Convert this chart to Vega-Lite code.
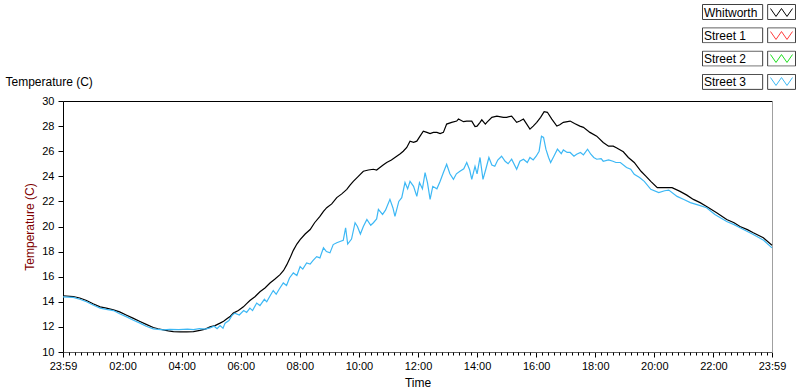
{
"$schema": "https://vega.github.io/schema/vega-lite/v6.json",
"width": 709, "height": 251,
"autosize": {"type": "none"},
"padding": {"left": 63, "top": 101, "right": 28, "bottom": 40},
"background": "white",
"config": {
  "view": {"stroke": null},
  "font": "Liberation Sans",
  "axis": {"labelFont": "Liberation Sans", "titleFont": "Liberation Sans", "labelColor": "#000", "titleColor": "#000", "grid": false, "tickColor": "#000", "domainColor": "#000", "labelFontSize": 11, "titleFontSize": 12, "titleFontWeight": "normal", "labelFlush": false, "labelOverlap": false},
  "legend": {"padding": 0, "labelFont": "Liberation Sans", "labelFontSize": 12, "labelColor": "#000"}
},
"data": {"values": [
{"series":"Whitworth","t":-0.017,"temp":14.48},{"series":"Whitworth","t":0.33,"temp":14.42},{"series":"Whitworth","t":0.55,"temp":14.3},{"series":"Whitworth","t":0.78,"temp":14.1},{"series":"Whitworth","t":1.0,"temp":13.85},{"series":"Whitworth","t":1.24,"temp":13.6},{"series":"Whitworth","t":1.45,"temp":13.5},{"series":"Whitworth","t":1.69,"temp":13.36},{"series":"Whitworth","t":1.9,"temp":13.2},{"series":"Whitworth","t":2.14,"temp":12.93},{"series":"Whitworth","t":2.35,"temp":12.7},{"series":"Whitworth","t":2.59,"temp":12.43},{"series":"Whitworth","t":2.8,"temp":12.2},{"series":"Whitworth","t":3.04,"temp":11.95},{"series":"Whitworth","t":3.2,"temp":11.85},{"series":"Whitworth","t":3.38,"temp":11.76},{"series":"Whitworth","t":3.55,"temp":11.68},{"series":"Whitworth","t":3.72,"temp":11.63},{"series":"Whitworth","t":3.95,"temp":11.6},{"series":"Whitworth","t":4.17,"temp":11.6},{"series":"Whitworth","t":4.4,"temp":11.62},{"series":"Whitworth","t":4.62,"temp":11.72},{"series":"Whitworth","t":4.8,"temp":11.82},{"series":"Whitworth","t":4.96,"temp":12.0},{"series":"Whitworth","t":5.13,"temp":12.1},{"series":"Whitworth","t":5.3,"temp":12.3},{"series":"Whitworth","t":5.42,"temp":12.45},{"series":"Whitworth","t":5.53,"temp":12.65},{"series":"Whitworth","t":5.65,"temp":12.85},{"series":"Whitworth","t":5.75,"temp":13.1},{"series":"Whitworth","t":5.92,"temp":13.3},{"series":"Whitworth","t":6.09,"temp":13.6},{"series":"Whitworth","t":6.2,"temp":13.85},{"series":"Whitworth","t":6.31,"temp":14.1},{"series":"Whitworth","t":6.48,"temp":14.4},{"series":"Whitworth","t":6.65,"temp":14.8},{"series":"Whitworth","t":6.82,"temp":15.1},{"series":"Whitworth","t":6.99,"temp":15.5},{"series":"Whitworth","t":7.15,"temp":15.8},{"series":"Whitworth","t":7.33,"temp":16.16},{"series":"Whitworth","t":7.45,"temp":16.5},{"series":"Whitworth","t":7.56,"temp":16.96},{"series":"Whitworth","t":7.67,"temp":17.5},{"series":"Whitworth","t":7.78,"temp":18.1},{"series":"Whitworth","t":7.9,"temp":18.6},{"series":"Whitworth","t":8.01,"temp":18.96},{"series":"Whitworth","t":8.18,"temp":19.4},{"series":"Whitworth","t":8.35,"temp":19.76},{"series":"Whitworth","t":8.5,"temp":20.3},{"series":"Whitworth","t":8.68,"temp":20.8},{"series":"Whitworth","t":8.8,"temp":21.2},{"series":"Whitworth","t":8.91,"temp":21.5},{"series":"Whitworth","t":9.08,"temp":21.8},{"series":"Whitworth","t":9.25,"temp":22.3},{"series":"Whitworth","t":9.42,"temp":22.6},{"series":"Whitworth","t":9.59,"temp":22.96},{"series":"Whitworth","t":9.7,"temp":23.3},{"series":"Whitworth","t":9.81,"temp":23.6},{"series":"Whitworth","t":9.98,"temp":24.0},{"series":"Whitworth","t":10.15,"temp":24.4},{"series":"Whitworth","t":10.32,"temp":24.5},{"series":"Whitworth","t":10.49,"temp":24.56},{"series":"Whitworth","t":10.6,"temp":24.5},{"series":"Whitworth","t":10.71,"temp":24.7},{"series":"Whitworth","t":10.82,"temp":24.9},{"series":"Whitworth","t":10.94,"temp":25.1},{"series":"Whitworth","t":11.1,"temp":25.3},{"series":"Whitworth","t":11.28,"temp":25.6},{"series":"Whitworth","t":11.4,"temp":25.8},{"series":"Whitworth","t":11.5,"temp":26.0},{"series":"Whitworth","t":11.62,"temp":26.3},{"series":"Whitworth","t":11.73,"temp":26.8},{"series":"Whitworth","t":11.85,"temp":26.7},{"series":"Whitworth","t":11.96,"temp":26.8},{"series":"Whitworth","t":12.07,"temp":27.2},{"series":"Whitworth","t":12.18,"temp":27.6},{"series":"Whitworth","t":12.3,"temp":27.5},{"series":"Whitworth","t":12.41,"temp":27.4},{"series":"Whitworth","t":12.52,"temp":27.5},{"series":"Whitworth","t":12.64,"temp":27.5},{"series":"Whitworth","t":12.75,"temp":27.4},{"series":"Whitworth","t":12.86,"temp":27.5},{"series":"Whitworth","t":12.97,"temp":28.16},{"series":"Whitworth","t":13.14,"temp":28.3},{"series":"Whitworth","t":13.31,"temp":28.4},{"series":"Whitworth","t":13.37,"temp":28.56},{"series":"Whitworth","t":13.54,"temp":28.35},{"series":"Whitworth","t":13.65,"temp":28.4},{"series":"Whitworth","t":13.82,"temp":28.4},{"series":"Whitworth","t":13.93,"temp":27.96},{"series":"Whitworth","t":14.0,"temp":28.0},{"series":"Whitworth","t":14.1,"temp":28.3},{"series":"Whitworth","t":14.16,"temp":28.5},{"series":"Whitworth","t":14.28,"temp":28.16},{"series":"Whitworth","t":14.33,"temp":28.3},{"series":"Whitworth","t":14.5,"temp":28.7},{"series":"Whitworth","t":14.67,"temp":28.8},{"series":"Whitworth","t":14.89,"temp":28.7},{"series":"Whitworth","t":15.0,"temp":28.7},{"series":"Whitworth","t":15.17,"temp":28.8},{"series":"Whitworth","t":15.34,"temp":28.3},{"series":"Whitworth","t":15.45,"temp":28.4},{"series":"Whitworth","t":15.57,"temp":28.56},{"series":"Whitworth","t":15.79,"temp":27.76},{"series":"Whitworth","t":15.9,"temp":28.0},{"series":"Whitworth","t":16.02,"temp":28.3},{"series":"Whitworth","t":16.15,"temp":28.7},{"series":"Whitworth","t":16.27,"temp":29.15},{"series":"Whitworth","t":16.38,"temp":29.1},{"series":"Whitworth","t":16.53,"temp":28.56},{"series":"Whitworth","t":16.7,"temp":28.0},{"series":"Whitworth","t":16.8,"temp":28.1},{"series":"Whitworth","t":16.92,"temp":28.3},{"series":"Whitworth","t":17.15,"temp":28.4},{"series":"Whitworth","t":17.3,"temp":28.2},{"series":"Whitworth","t":17.48,"temp":28.0},{"series":"Whitworth","t":17.6,"temp":27.9},{"series":"Whitworth","t":17.82,"temp":27.5},{"series":"Whitworth","t":18.05,"temp":27.2},{"series":"Whitworth","t":18.27,"temp":26.7},{"series":"Whitworth","t":18.45,"temp":26.4},{"series":"Whitworth","t":18.61,"temp":26.4},{"series":"Whitworth","t":18.73,"temp":26.25},{"series":"Whitworth","t":18.95,"temp":25.95},{"series":"Whitworth","t":19.12,"temp":25.5},{"series":"Whitworth","t":19.32,"temp":25.1},{"series":"Whitworth","t":19.55,"temp":24.4},{"series":"Whitworth","t":19.72,"temp":24.0},{"series":"Whitworth","t":19.88,"temp":23.6},{"series":"Whitworth","t":20.1,"temp":23.1},{"series":"Whitworth","t":20.35,"temp":23.1},{"series":"Whitworth","t":20.6,"temp":23.1},{"series":"Whitworth","t":20.87,"temp":22.8},{"series":"Whitworth","t":21.1,"temp":22.5},{"series":"Whitworth","t":21.32,"temp":22.16},{"series":"Whitworth","t":21.55,"temp":21.9},{"series":"Whitworth","t":21.77,"temp":21.6},{"series":"Whitworth","t":22.11,"temp":21.1},{"series":"Whitworth","t":22.45,"temp":20.56},{"series":"Whitworth","t":22.7,"temp":20.3},{"series":"Whitworth","t":22.9,"temp":20.0},{"series":"Whitworth","t":23.15,"temp":19.75},{"series":"Whitworth","t":23.35,"temp":19.5},{"series":"Whitworth","t":23.69,"temp":19.1},{"series":"Whitworth","t":23.983,"temp":18.5},
{"series":"Street 3","t":-0.017,"temp":14.4},{"series":"Street 3","t":0.33,"temp":14.35},{"series":"Street 3","t":0.55,"temp":14.2},{"series":"Street 3","t":0.78,"temp":14.0},{"series":"Street 3","t":1.0,"temp":13.75},{"series":"Street 3","t":1.24,"temp":13.5},{"series":"Street 3","t":1.45,"temp":13.4},{"series":"Street 3","t":1.69,"temp":13.3},{"series":"Street 3","t":1.9,"temp":13.05},{"series":"Street 3","t":2.14,"temp":12.8},{"series":"Street 3","t":2.35,"temp":12.55},{"series":"Street 3","t":2.59,"temp":12.3},{"series":"Street 3","t":2.8,"temp":12.05},{"series":"Street 3","t":3.04,"temp":11.84},{"series":"Street 3","t":3.2,"temp":11.8},{"series":"Street 3","t":3.38,"temp":11.76},{"series":"Street 3","t":3.6,"temp":11.8},{"series":"Street 3","t":3.9,"temp":11.78},{"series":"Street 3","t":4.2,"temp":11.82},{"series":"Street 3","t":4.4,"temp":11.78},{"series":"Street 3","t":4.6,"temp":11.86},{"series":"Street 3","t":4.8,"temp":11.82},{"series":"Street 3","t":4.96,"temp":11.92},{"series":"Street 3","t":5.1,"temp":12.05},{"series":"Street 3","t":5.2,"temp":11.85},{"series":"Street 3","t":5.3,"temp":12.1},{"series":"Street 3","t":5.4,"temp":11.9},{"series":"Street 3","t":5.47,"temp":12.3},{"series":"Street 3","t":5.6,"temp":12.5},{"series":"Street 3","t":5.7,"temp":12.9},{"series":"Street 3","t":5.8,"temp":13.1},{"series":"Street 3","t":5.95,"temp":12.95},{"series":"Street 3","t":6.1,"temp":13.3},{"series":"Street 3","t":6.2,"temp":13.15},{"series":"Street 3","t":6.31,"temp":13.5},{"series":"Street 3","t":6.4,"temp":13.3},{"series":"Street 3","t":6.54,"temp":13.9},{"series":"Street 3","t":6.65,"temp":13.7},{"series":"Street 3","t":6.8,"temp":14.2},{"series":"Street 3","t":6.88,"temp":14.0},{"series":"Street 3","t":7.0,"temp":14.5},{"series":"Street 3","t":7.1,"temp":14.9},{"series":"Street 3","t":7.2,"temp":14.6},{"series":"Street 3","t":7.3,"temp":15.0},{"series":"Street 3","t":7.44,"temp":15.5},{"series":"Street 3","t":7.55,"temp":15.3},{"series":"Street 3","t":7.65,"temp":15.9},{"series":"Street 3","t":7.78,"temp":16.3},{"series":"Street 3","t":7.9,"temp":16.1},{"series":"Street 3","t":8.01,"temp":16.8},{"series":"Street 3","t":8.1,"temp":16.6},{"series":"Street 3","t":8.23,"temp":17.1},{"series":"Street 3","t":8.35,"temp":17.0},{"series":"Street 3","t":8.45,"temp":17.3},{"series":"Street 3","t":8.57,"temp":17.6},{"series":"Street 3","t":8.68,"temp":17.5},{"series":"Street 3","t":8.8,"temp":18.3},{"series":"Street 3","t":8.9,"temp":18.0},{"series":"Street 3","t":9.02,"temp":17.9},{"series":"Street 3","t":9.13,"temp":18.56},{"series":"Street 3","t":9.25,"temp":18.7},{"series":"Street 3","t":9.36,"temp":18.8},{"series":"Street 3","t":9.47,"temp":18.9},{"series":"Street 3","t":9.55,"temp":19.9},{"series":"Street 3","t":9.62,"temp":18.6},{"series":"Street 3","t":9.75,"temp":19.0},{"series":"Street 3","t":9.87,"temp":20.3},{"series":"Street 3","t":9.95,"temp":20.0},{"series":"Street 3","t":10.05,"temp":19.4},{"series":"Street 3","t":10.15,"temp":20.0},{"series":"Street 3","t":10.27,"temp":20.56},{"series":"Street 3","t":10.4,"temp":20.1},{"series":"Street 3","t":10.49,"temp":20.3},{"series":"Street 3","t":10.6,"temp":20.6},{"series":"Street 3","t":10.66,"temp":21.36},{"series":"Street 3","t":10.8,"temp":20.96},{"series":"Street 3","t":10.9,"temp":21.3},{"series":"Street 3","t":11.05,"temp":22.16},{"series":"Street 3","t":11.15,"temp":21.5},{"series":"Street 3","t":11.22,"temp":20.8},{"series":"Street 3","t":11.35,"temp":22.0},{"series":"Street 3","t":11.45,"temp":22.3},{"series":"Street 3","t":11.56,"temp":23.5},{"series":"Street 3","t":11.65,"temp":23.0},{"series":"Street 3","t":11.73,"temp":23.6},{"series":"Street 3","t":11.85,"temp":23.2},{"series":"Street 3","t":11.96,"temp":22.4},{"series":"Street 3","t":12.05,"temp":23.5},{"series":"Street 3","t":12.15,"temp":23.0},{"series":"Street 3","t":12.24,"temp":24.3},{"series":"Street 3","t":12.32,"temp":23.5},{"series":"Street 3","t":12.41,"temp":22.16},{"series":"Street 3","t":12.5,"temp":23.2},{"series":"Street 3","t":12.64,"temp":23.0},{"series":"Street 3","t":12.75,"temp":23.6},{"series":"Street 3","t":12.86,"temp":24.3},{"series":"Street 3","t":12.97,"temp":24.96},{"series":"Street 3","t":13.08,"temp":24.2},{"series":"Street 3","t":13.2,"temp":23.76},{"series":"Street 3","t":13.3,"temp":24.2},{"series":"Street 3","t":13.42,"temp":24.4},{"series":"Street 3","t":13.55,"temp":24.6},{"series":"Street 3","t":13.65,"temp":25.1},{"series":"Street 3","t":13.75,"temp":24.5},{"series":"Street 3","t":13.82,"temp":23.76},{"series":"Street 3","t":13.93,"temp":24.8},{"series":"Street 3","t":14.0,"temp":24.2},{"series":"Street 3","t":14.1,"temp":25.5},{"series":"Street 3","t":14.2,"temp":23.76},{"series":"Street 3","t":14.3,"temp":24.6},{"series":"Street 3","t":14.4,"temp":25.5},{"series":"Street 3","t":14.5,"temp":24.9},{"series":"Street 3","t":14.6,"temp":24.8},{"series":"Street 3","t":14.7,"temp":25.3},{"series":"Street 3","t":14.83,"temp":25.6},{"series":"Street 3","t":14.95,"temp":25.2},{"series":"Street 3","t":15.05,"temp":25.0},{"series":"Street 3","t":15.17,"temp":25.36},{"series":"Street 3","t":15.34,"temp":24.56},{"series":"Street 3","t":15.45,"temp":25.2},{"series":"Street 3","t":15.57,"temp":25.36},{"series":"Street 3","t":15.7,"temp":25.1},{"series":"Street 3","t":15.79,"temp":25.5},{"series":"Street 3","t":15.9,"temp":25.3},{"series":"Street 3","t":16.0,"temp":25.6},{"series":"Street 3","t":16.1,"temp":26.0},{"series":"Street 3","t":16.18,"temp":27.2},{"series":"Street 3","t":16.25,"temp":27.1},{"series":"Street 3","t":16.33,"temp":26.16},{"series":"Street 3","t":16.42,"temp":25.5},{"series":"Street 3","t":16.49,"temp":25.1},{"series":"Street 3","t":16.6,"temp":25.6},{"series":"Street 3","t":16.72,"temp":26.16},{"series":"Street 3","t":16.85,"temp":25.8},{"series":"Street 3","t":16.92,"temp":26.1},{"series":"Street 3","t":17.05,"temp":25.9},{"series":"Street 3","t":17.15,"temp":25.9},{"series":"Street 3","t":17.28,"temp":25.6},{"series":"Street 3","t":17.37,"temp":25.76},{"series":"Street 3","t":17.5,"temp":25.9},{"series":"Street 3","t":17.6,"temp":25.7},{"series":"Street 3","t":17.74,"temp":26.16},{"series":"Street 3","t":17.85,"temp":25.76},{"series":"Street 3","t":17.95,"temp":25.5},{"series":"Street 3","t":18.05,"temp":25.36},{"series":"Street 3","t":18.2,"temp":25.4},{"series":"Street 3","t":18.27,"temp":25.2},{"series":"Street 3","t":18.45,"temp":25.3},{"series":"Street 3","t":18.6,"temp":25.2},{"series":"Street 3","t":18.7,"temp":25.1},{"series":"Street 3","t":18.85,"temp":25.1},{"series":"Street 3","t":19.06,"temp":24.7},{"series":"Street 3","t":19.2,"temp":24.56},{"series":"Street 3","t":19.32,"temp":24.16},{"series":"Street 3","t":19.5,"temp":23.9},{"series":"Street 3","t":19.66,"temp":23.6},{"series":"Street 3","t":19.88,"temp":22.96},{"series":"Street 3","t":20.15,"temp":22.7},{"series":"Street 3","t":20.35,"temp":22.85},{"series":"Street 3","t":20.49,"temp":22.9},{"series":"Street 3","t":20.77,"temp":22.4},{"series":"Street 3","t":21.0,"temp":22.15},{"series":"Street 3","t":21.22,"temp":21.9},{"series":"Street 3","t":21.5,"temp":21.7},{"series":"Street 3","t":21.77,"temp":21.5},{"series":"Street 3","t":22.05,"temp":20.96},{"series":"Street 3","t":22.45,"temp":20.4},{"series":"Street 3","t":22.7,"temp":20.15},{"series":"Street 3","t":22.9,"temp":19.9},{"series":"Street 3","t":23.15,"temp":19.6},{"series":"Street 3","t":23.35,"temp":19.36},{"series":"Street 3","t":23.7,"temp":18.9},{"series":"Street 3","t":23.983,"temp":18.3}
]},
"layer": [
  {
    "mark": {"type": "line", "strokeWidth": 1.2},
    "encoding": {
      "x": {"field": "t", "type": "quantitative", "scale": {"domain": [-0.0167, 23.9833], "nice": false, "zero": false},
        "axis": {"orient": "bottom", "title": "Time", "values": [-0.0167, 2, 4, 6, 8, 10, 12, 14, 16, 18, 20, 22, 23.9833],
          "labelExpr": "datum.value < 0 || datum.value > 23 ? '23:59' : (datum.value < 10 ? '0' + datum.value : '' + datum.value) + ':00'",
          "tickSize": 5, "labelPadding": 3, "titlePadding": 6, "domainColor": "#606060"}},
      "y": {"field": "temp", "type": "quantitative", "scale": {"domain": [10, 30], "nice": false, "zero": false},
        "axis": {"orient": "left", "title": "Temperature (C)", "titleColor": "#800000", "values": [10, 12, 14, 16, 18, 20, 22, 24, 26, 28, 30], "tickSize": 5, "labelPadding": 4, "titlePadding": 5}},
      "color": {"field": "series", "type": "nominal",
        "scale": {"domain": ["Whitworth", "Street 1", "Street 2", "Street 3"], "range": ["#000000", "#ff3b3b", "#1ee01e", "#3db8f5"]},
        "legend": {"orient": "none", "direction": "vertical", "legendX": 707, "legendY": -100, "title": null,
          "symbolType": "M-1,-0.36L-0.5,0.36L0,-0.36L0.5,0.36L1,-0.36", "symbolSize": 484, "symbolStrokeWidth": 1,
          "symbolOffset": 0, "labelOffset": -89, "labelAlign": "left", "rowPadding": 5, "padding": 0, "symbolFillColor": "transparent", "symbolOpacity": 1}}
    }
  },
  {
    "mark": {"type": "line", "opacity": 0},
    "encoding": {
      "x": {"field": "t", "type": "quantitative", "scale": {"domain": [-0.0167, 23.9833], "nice": false, "zero": false},
        "axis": {"orient": "bottom", "title": null, "labels": false, "domain": false, "tickSize": 3,
          "values": [0.2,0.4,0.6,0.8,1,1.2,1.4,1.6,1.8,2.2,2.4,2.6,2.8,3,3.2,3.4,3.6,3.8,4.2,4.4,4.6,4.8,5,5.2,5.4,5.6,5.8,6.2,6.4,6.6,6.8,7,7.2,7.4,7.6,7.8,8.2,8.4,8.6,8.8,9,9.2,9.4,9.6,9.8,10.2,10.4,10.6,10.8,11,11.2,11.4,11.6,11.8,12.2,12.4,12.6,12.8,13,13.2,13.4,13.6,13.8,14.2,14.4,14.6,14.8,15,15.2,15.4,15.6,15.8,16.2,16.4,16.6,16.8,17,17.2,17.4,17.6,17.8,18.2,18.4,18.6,18.8,19,19.2,19.4,19.6,19.8,20.2,20.4,20.6,20.8,21,21.2,21.4,21.6,21.8,22.2,22.4,22.6,22.8,23,23.2,23.4,23.6,23.8]}},
      "y": {"field": "temp", "type": "quantitative", "scale": {"domain": [10, 30], "nice": false, "zero": false}, "axis": null},
      "detail": {"field": "series"}
    }
  },
  {
    "mark": {"type": "line", "opacity": 0},
    "encoding": {
      "x": {"field": "t", "type": "quantitative", "scale": {"domain": [-0.0167, 23.9833], "nice": false, "zero": false},
        "axis": {"orient": "top", "ticks": false, "labels": false, "domainColor": "#000000",
          "title": "Temperature (C)", "titleAnchor": "start", "titleAlign": "left", "titleBaseline": "bottom", "titleX": -58, "titleY": -13, "titleFontSize": 12}},
      "y": {"field": "temp", "type": "quantitative", "scale": {"domain": [10, 30], "nice": false, "zero": false},
        "axis": {"orient": "right", "ticks": false, "labels": false, "domainColor": "#a0a0a0", "title": null}},
      "detail": {"field": "series"}
    }
  },
  {
    "mark": {"type": "point", "opacity": 0, "filled": false},
    "encoding": {
      "x": {"field": "t", "type": "quantitative", "scale": {"domain": [-0.0167, 23.9833], "nice": false, "zero": false}, "axis": null},
      "y": {"field": "temp", "type": "quantitative", "scale": {"domain": [10, 30], "nice": false, "zero": false}, "axis": null},
      "shape": {"field": "series", "type": "nominal",
        "scale": {"domain": ["Street 3", "Street 2", "Street 1", "Whitworth"],
          "range": ["M-1,-0.161L0.294,-0.161L0.294,0.161L-1,0.161Z M0.401,-0.161L1,-0.161L1,0.161L0.401,0.161Z", "M-1,-0.161L0.294,-0.161L0.294,0.161L-1,0.161Z M0.401,-0.161L1,-0.161L1,0.161L0.401,0.161Z", "M-1,-0.161L0.294,-0.161L0.294,0.161L-1,0.161Z M0.401,-0.161L1,-0.161L1,0.161L0.401,0.161Z", "M-1,-0.161L0.294,-0.161L0.294,0.161L-1,0.161Z M0.401,-0.161L1,-0.161L1,0.161L0.401,0.161Z"]},
        "legend": {"orient": "none", "direction": "vertical", "legendX": 639, "legendY": -97, "title": null, "clipHeight": 16,
          "symbolSize": 8649, "symbolStrokeColor": "#404040", "symbolStrokeWidth": 1, "symbolFillColor": "transparent", "symbolOpacity": 1,
          "symbolOffset": 0, "labelExpr": "''", "rowPadding": 7.3, "padding": 0}}
    }
  }
],
"resolve": {"axis": {"x": "independent", "y": "independent"}}
}
